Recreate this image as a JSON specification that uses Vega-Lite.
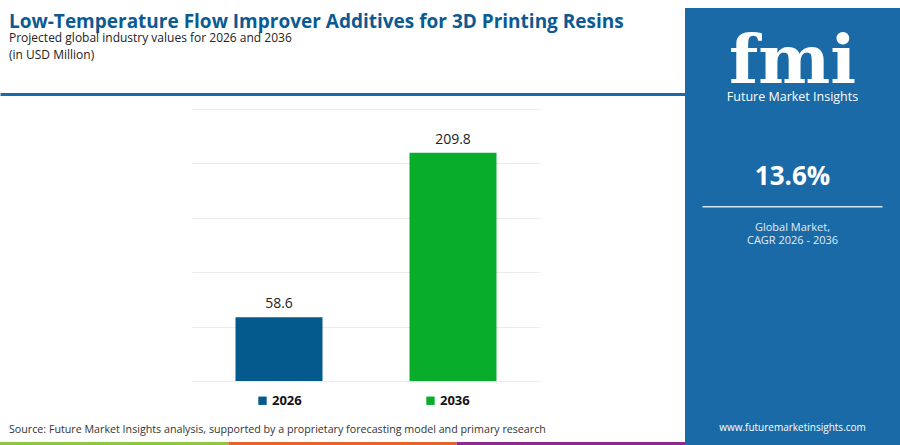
{
  "$schema": "https://vega.github.io/schema/vega-lite/v6.json",
  "description": "Low-temperature flow improver additives for 3D printing resins, 2026 vs 2036.",
  "background": "white",
  "padding": {"top": 8, "left": 0, "right": 0, "bottom": 0},
  "config": {
    "view": {"stroke": null},
    "font": "Open Sans",
    "text": {"font": "Open Sans"}
  },
  "spacing": 0,
  "resolve": {"scale": {"color": "independent", "y": "independent", "x": "independent"}},
  "hconcat": [
    {
      "spacing": 0,
      "resolve": {"scale": {"color": "independent", "x": "independent", "y": "independent"}, "legend": {"color": "independent"}},
      "vconcat": [
        {
          "width": 685,
          "height": 86,
          "encoding": {
            "x": {
              "datum": "start",
              "type": "nominal",
              "scale": {"type": "point", "domain": ["start", "end"], "padding": 0},
              "axis": {"title": null, "labels": false, "ticks": false, "grid": false, "domainColor": "#1a6aa8", "domainWidth": 3, "minExtent": 15}
            },
            "y": {
              "field": "slot",
              "type": "nominal",
              "axis": null,
              "scale": {
                "type": "point",
                "padding": 1,
                "domain": ["h0", "h1", "title", "h3", "h4", "h5", "sub1", "h7", "h8", "h9", "sub2", "h11", "h12", "h13", "h14", "h15", "h16", "h17", "h18"]
              }
            }
          },
          "layer": [
            {
              "data": {"values": [{"slot": "title", "label": "Low-Temperature Flow Improver Additives for 3D Printing Resins"}]},
              "mark": {"type": "text", "align": "left", "baseline": "middle", "dx": 9, "dy": 1, "fontSize": 19, "fontWeight": "bold", "color": "#0b5a92"},
              "encoding": {"text": {"field": "label"}}
            },
            {
              "data": {
                "values": [
                  {"slot": "sub1", "label": "Projected global industry values for 2026 and 2036"},
                  {"slot": "sub2", "label": "(in USD Million)"}
                ]
              },
              "mark": {"type": "text", "align": "left", "baseline": "middle", "dx": 9, "fontSize": 12, "color": "#222222"},
              "encoding": {"text": {"field": "label"}}
            }
          ]
        },
        {
          "spacing": 0,
          "hconcat": [
            {
              "width": 192,
              "height": 272,
              "data": {"values": [{"gap": "left"}]},
              "mark": {"type": "point", "opacity": 0}
            },
            {
              "width": 348,
              "height": 272,
              "data": {
                "values": [
                  {"year": "2026", "value": 58.6},
                  {"year": "2036", "value": 209.8}
                ]
              },
              "encoding": {
                "x": {
                  "field": "year",
                  "type": "nominal",
                  "scale": {"paddingInner": 0.5, "paddingOuter": 0.25},
                  "axis": null
                },
                "y": {
                  "field": "value",
                  "type": "quantitative",
                  "scale": {"domain": [0, 250]},
                  "axis": {
                    "title": null,
                    "labels": false,
                    "ticks": false,
                    "domain": false,
                    "values": [0, 50, 100, 150, 200, 250],
                    "gridColor": "#ebebeb"
                  }
                }
              },
              "layer": [
                {
                  "mark": {"type": "bar"},
                  "encoding": {
                    "color": {
                      "field": "year",
                      "type": "nominal",
                      "scale": {"domain": ["2026", "2036"], "range": ["#045a8c", "#08ad2c"]},
                      "legend": {
                        "orient": "none",
                        "legendX": 240,
                        "legendY": 269,
                        "direction": "horizontal",
                        "title": null,
                        "symbolType": "square",
                        "symbolSize": 70,
                        "symbolStrokeWidth": 0,
                        "labelFontSize": 13,
                        "labelFontWeight": "bold",
                        "labelColor": "#111111",
                        "labelOffset": 3,
                        "columnPadding": 122,
                        "padding": 16
                      }
                    }
                  }
                },
                {
                  "mark": {"type": "text", "dy": -13, "fontSize": 14, "color": "#222222"},
                  "encoding": {
                    "text": {"field": "value", "type": "quantitative", "format": ".1f"}
                  }
                }
              ]
            }
          ]
        },
        {
          "width": 685,
          "height": 4,
          "title": {
            "text": "Source: Future Market Insights analysis, supported by a proprietary forecasting model and primary research",
            "anchor": "start",
            "font": "Open Sans",
            "dx": 9,
            "fontSize": 10.7,
            "fontWeight": "normal",
            "color": "#333333",
            "offset": 6
          },
          "data": {"values": [{"part": "green"}, {"part": "orange"}, {"part": "purple"}]},
          "mark": {"type": "rect"},
          "encoding": {
            "x": {"field": "part", "type": "nominal", "scale": {"paddingInner": 0, "paddingOuter": 0}, "axis": null},
            "color": {
              "field": "part",
              "type": "nominal",
              "scale": {"domain": ["green", "orange", "purple"], "range": ["#8dc63f", "#e8632a", "#8e2a8e"]},
              "legend": null
            }
          }
        }
      ]
    },
    {
      "width": 215,
      "height": 437,
      "view": {"fill": "#1a6aa8", "stroke": null},
      "encoding": {
        "y": {
          "field": "slot",
          "type": "nominal",
          "axis": null,
          "scale": {
            "type": "point",
            "padding": 1,
            "domain": ["p0", "p1", "p2", "p3", "p4", "p5", "p6", "logo", "brand", "p9", "p10", "p11", "p12", "p13", "p14", "p15", "cagr", "p17", "p18", "rule", "p20", "note", "p22", "p23", "p24", "p25", "p26", "p27", "p28", "p29", "p30", "p31", "p32", "p33", "p34", "p35", "p36", "p37", "p38", "p39", "p40", "url", "p42"]
          }
        }
      },
      "layer": [
        {
          "data": {"values": [{"slot": "logo", "label": "fmi"}]},
          "mark": {"type": "text", "font": "DejaVu Serif", "fontSize": 68, "fontWeight": "bold", "color": "white", "baseline": "alphabetic", "dy": -4},
          "encoding": {"text": {"field": "label"}}
        },
        {
          "data": {"values": [{"slot": "brand", "label": "Future Market Insights"}]},
          "mark": {"type": "text", "fontSize": 12.5, "color": "white", "baseline": "middle"},
          "encoding": {"text": {"field": "label"}}
        },
        {
          "data": {"values": [{"slot": "cagr", "label": "13.6%"}]},
          "mark": {"type": "text", "fontSize": 26, "fontWeight": "bold", "color": "white", "baseline": "middle"},
          "encoding": {"text": {"field": "label"}}
        },
        {
          "data": {"values": [{"slot": "rule"}]},
          "mark": {"type": "tick", "orient": "horizontal", "size": 180, "thickness": 1.5, "color": "#d8e6f2", "opacity": 1}
        },
        {
          "data": {"values": [{"slot": "note", "label": "Global Market,\nCAGR 2026 - 2036"}]},
          "mark": {"type": "text", "fontSize": 11, "color": "#e2ecf5", "baseline": "middle", "lineBreak": "\n", "lineHeight": 13, "dy": 1},
          "encoding": {"text": {"field": "label"}}
        },
        {
          "data": {"values": [{"slot": "url", "label": "www.futuremarketinsights.com"}]},
          "mark": {"type": "text", "fontSize": 10, "color": "white", "baseline": "middle", "dy": 3},
          "encoding": {"text": {"field": "label"}}
        }
      ]
    }
  ]
}
